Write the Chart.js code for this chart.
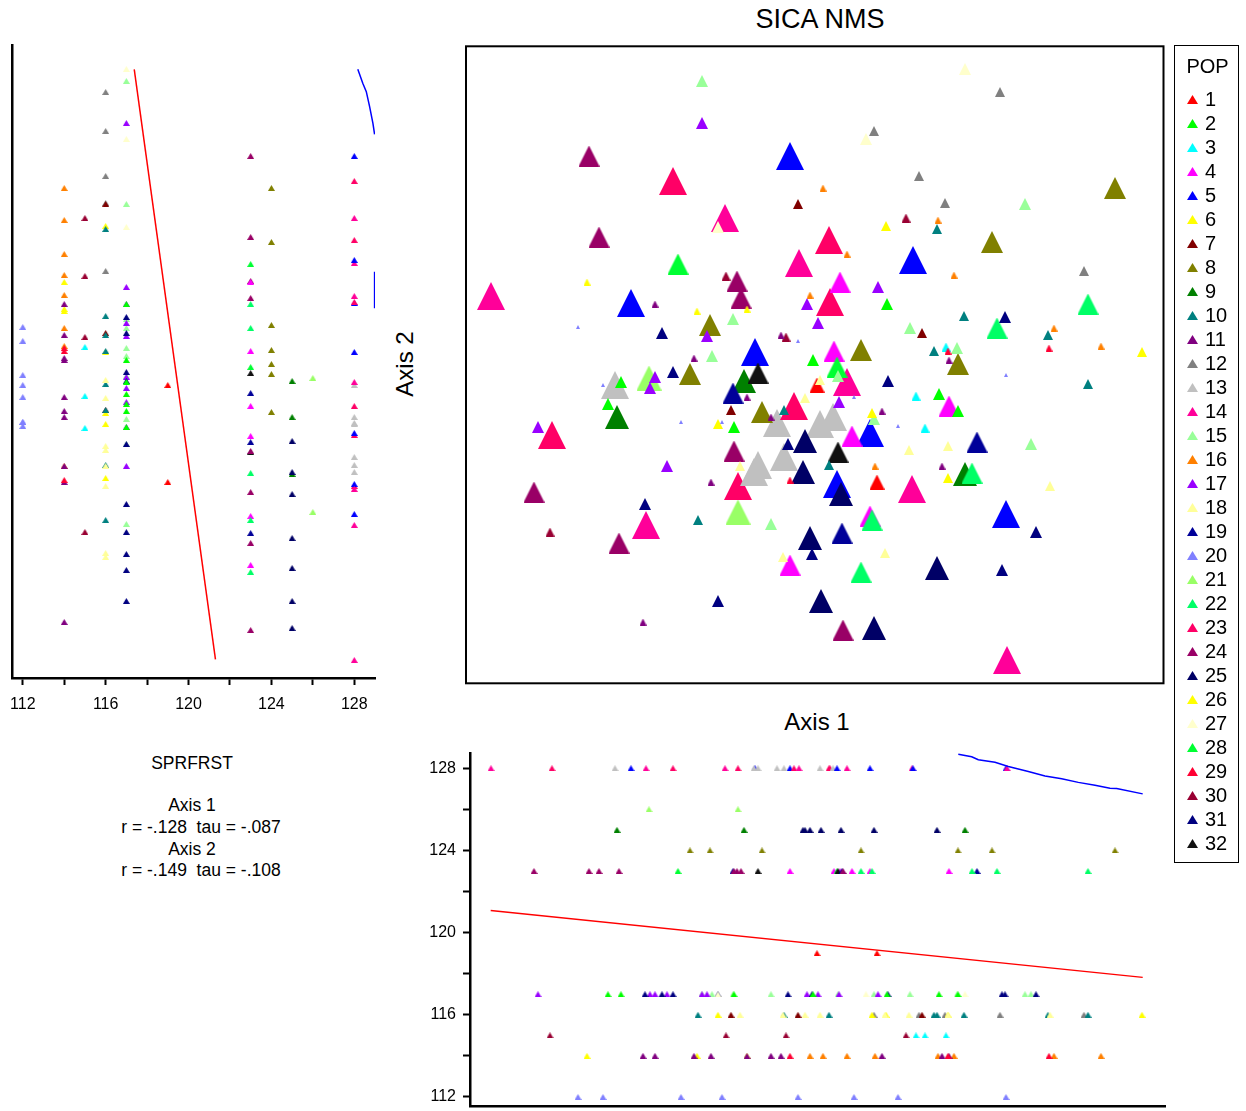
<!DOCTYPE html>
<html><head><meta charset="utf-8"><title>SICA NMS</title>
<script src="https://cdn.jsdelivr.net/npm/chart.js@4.4.1/dist/chart.umd.min.js"></script>
<style>
html,body{margin:0;padding:0;background:#fff;}
#page{position:relative;width:1246px;height:1111px;overflow:hidden;font-family:"Liberation Sans",Arial,Helvetica,sans-serif;color:#000;}
.t{position:absolute;white-space:pre;line-height:1;}
canvas{position:absolute;display:block;}
#legend{position:absolute;left:1174px;top:45px;width:65px;height:818px;border:1px solid #000;box-sizing:border-box;}
</style></head><body>
<div id="page">
<canvas id="cLeft" width="380" height="730" style="left:0;top:0"></canvas>
<canvas id="cMain" width="720" height="660" style="left:455px;top:35px"></canvas>
<canvas id="cBot" width="800" height="371" style="left:380px;top:740px"></canvas>
<div class="t" style="left:620px;top:6px;width:400px;text-align:center;font-size:27px;">SICA NMS</div>
<div class="t" style="left:717px;top:710px;width:200px;text-align:center;font-size:24px;">Axis 1</div>
<div class="t" style="left:355px;top:352px;width:100px;text-align:center;font-size:24px;transform:rotate(-90deg);">Axis 2</div>
<div class="t" style="left:42px;top:755px;width:300px;text-align:center;font-size:17.5px;">SPRFRST</div>
<div class="t" style="left:42px;top:797px;width:300px;text-align:center;font-size:17.5px;">Axis 1</div>
<div class="t" style="left:51px;top:819px;width:300px;text-align:center;font-size:17.5px;">r = -.128  tau = -.087</div>
<div class="t" style="left:42px;top:841px;width:300px;text-align:center;font-size:17.5px;">Axis 2</div>
<div class="t" style="left:51px;top:862px;width:300px;text-align:center;font-size:17.5px;">r = -.149  tau = -.108</div>
<div id="legend"></div>
</div>
<script>
// ---------------- DATA ----------------
const popNames = ['1','2','3','4','5','6','7','8','9','10','11','12','13','14','15','16',
  '17','18','19','20','21','22','23','24','25','26','27','28','29','30','31','32'];
const popColors = ['#ff0000','#00ff00','#00ffff','#ff00ff','#0000ff','#ffff00','#800000','#808000',
  '#008000','#008080','#800080','#808080','#c0c0c0','#ff0099','#99ff99','#ff8000',
  '#9900ff','#ffff99','#000099','#8080ff','#99ff66','#00ff66','#ff0066','#990066',
  '#000066','#ffff00','#ffffcc','#00ff33','#ff0033','#990033','#000080','#111111'];

// NMS Axis 1 scores
const axis1 = [
  -32.4, -26.3, -18.4, -20.0, -16.9, -14.2, -9.0, -7.7, -6.0, -6.1, -5.7, -3.8, -3.1, -2.5, -2.1, -1.6, 1.4, 1.5, 0.5, 1.8, 2.2, 3.2, 5.5, 9.7, 9.8, 19.1, 19.2,
  -16.6, -7.7,
  -19.8, -7.1, 15.0, -1.0, -1.2, 2.6, -0.5, 12.2, 0.6, 5.9,
  30.0, 17.7, -10.5, 4.6, 14.3, -12.5, -5.3,
  -22.6, -21.6, -13.7, -7.8, -7.4, 2.5, 27.3, 18.2, 1.9, 2.2, -5.7, -8.2, 13.4, 3.7, 16.2, 2.3, -8.1, 15.7, -28.1, 5.5, 5.7, 2.7, -19.6, -2.5, 4.6, 2.8,
  0.2, 6.2,
  -11.3, 21.0, -8.2, 9.5, -10.3, 14.2, 5.9, 2.3, -4.4, 21.6,
  -11.3, 6.3, -0.8, 0.3, -10.8, -27.7, -14.8, 2.4, -16.5, -16.0,
  -15.3, 19.0, -14.2, -17.0, -2.7, 7.3, -0.3, -9.7, 22.1, 18.7,
  7.2, 12.4, 14.3, -20.7, -19.4, -8.1, -0.2,
  15.0, 5.1, -9.7,
  18.5, 5.9, 10.4, 13.0, 26.9,
  -1.7, 10.7, -8.4,
  7.1, 32.7, 5.7, -9.7, 13.3,
  12.2, 14.9, 23.3, 11.9, 27.3, -3.1, 1.4, -11.7,
  0.5, -1.0, 9.4, 13.3, -7.5, 23.5, 7.0, -3.2,
  9.1, -8.9, -2.9, -26.5, 13.1, 10.1, 11.0,
  0.8, 12.3, 3.2, 13.9, -0.5, 23.9, 28.6, 6.0,
  -22.8, -11.8, -6.8,
  -16.0, -3.4, 13.4, -6.8, -4.4, 6.7, 12.7, -10.4, -17.2, -12.1,
  23.4, 13.3, -2.5,
  -23.7, -1.7, -21.2, 19.1, 3.9, -9.3, -13.4, 8.3
];
// NMS Axis 2 scores
const axis2 = [
  6.9, -7.0, 6.2, -2.0, -16.0, 18.4, 14.7, -12.1, 1.3, -10.7, -10.0, -5.8, -9.2, 20.9, -4.1, 10.2, 12.5, 6.3, -5.9, -5.2, -11.9, -1.7, -6.8, -12.4, 10.5, -14.9, -29.5,
  -1.3, -14.7,
  -5.2, -1.6, -10.9, -7.6, -10.7, -12.9, -17.3, -20.3, -23.6, -26.3,
  17.7, 12.3, 4.0, 1.5, 0.1, -0.9, -4.7,
  20.9, 12.8, 10.1, 8.4, 6.7, 8.3, 6.1, 3.7, 1.4, -0.2, -0.8, -2.8, -4.1, -7.1, -7.7, -8.7, -8.6, -10.8, -12.7, -15.1, -15.5, -16.8, -17.8, -20.0, -20.7, -26.5,
  -2.0, -11.7,
  28.4, 16.1, 4.6, 3.7, 0.9, 1.7, -5.4, -1.1, -15.9, -7.9,
  24.2, 7.8, 6.1, 4.2, 2.9, -6.2, -10.1, -3.7, -2.3, -1.2,
  3.2, 4.8, -0.7, -13.9, -7.9, -1.6, -18.9, -23.6, -16.7, -20.5,
  6.1, -2.9, -4.6, -3.9, -1.7, -6.2, 0.5,
  29.6, 22.6, 13.8,
  27.3, 23.4, 18.9, 16.2, 9.4,
  16.1, 3.2, -4.5,
  13.9, 1.3, -4.8, -5.9, -11.3,
  13.6, 4.9, 3.0, 1.4, -1.9, -4.5, -10.0, -15.5,
  -1.5, -3.3, -8.5, -8.1, -10.1, -12.1, -18.8, -19.2,
  14.7, 8.9, 2.8, -16.7, 1.8, -3.1, -6.3,
  17.7, 14.5, 11.1, 9.0, 7.0, 3.7, 1.9, -10.1,
  8.3, 5.4, 5.6,
  6.1, 3.0, 0.5, -3.2, -5.2, -4.6, -10.1, -11.7, -25.7, 0.7,
  1.7, 1.4, -11.5,
  3.8, 2.4, -2.0, -1.0, -3.2, -5.7, -5.7, -6.1
];
// SPRFRST value of each plot
const sprfrst = [
  128,128,128,128,128,128,128,128,128,128,128,128,128,128,128,128,128,128,128,128,128,128,128,128,128,128,128,
  126,126,
  125,125,125,125,125,125,125,125,125,125,
  124,124,124,124,124,124,124,
  123,123,123,123,123,123,123,123,123,123,123,123,123,123,123,123,123,123,123,123,123,123,123,123,123,123,
  119,119,
  117,117,117,117,117,117,117,117,117,117,
  117,117,117,117,117,117,117,117,117,117,
  117,117,117,117,117,117,117,117,117,117,
  117,117,117,117,117,117,117,
  117,117,117,
  116,116,116,116,116,
  116,116,116,
  116,116,116,116,116,
  116,116,116,116,116,116,116,116,
  116,116,116,116,116,116,116,116,
  115,115,115,115,115,115,115,
  114,114,114,114,114,114,114,114,
  114,114,114,
  114,114,114,114,114,114,114,114,114,114,
  114,114,114,
  112,112,112,112,112,112,112,112
];
// POP group of each plot
const pop = [
  14,23,5,13,14,23,14,23,5,13,13,13,13,5,23,14,23,23,13,13,5,14,5,14,5,5,14,
  21,21,
  9,9,9,25,25,25,25,25,25,25,
  8,8,8,8,8,8,8,
  24,24,28,24,24,4,22,22,4,28,32,19,4,4,19,32,24,22,24,4,22,19,24,4,22,24,
  1,1,
  15,15,15,15,15,15,15,15,15,15,
  17,17,17,17,17,17,17,17,17,17,
  31,31,31,31,31,31,31,31,31,31,
  2,2,2,2,2,2,2,
  27,27,27,
  12,12,12,12,12,
  7,7,7,
  6,6,6,6,6,
  10,10,10,10,10,10,10,10,
  18,18,18,18,18,18,18,18,
  30,30,30,30,3,3,3,
  16,16,16,16,16,16,16,16,
  26,26,26,
  11,11,11,11,11,11,11,11,11,11,
  29,29,29,
  20,20,20,20,20,20,20,20
];

// Fitted lines
const sprTicks = [112,114,116,118,120,122,124,126,128];
const sprLabels = [112,116,120,124,128];
const leftFitS = [117.38, 121.30];
const leftFitA2 = [29.57, -29.43];
const leftSmoothS = [128.17, 128.41, 128.58, 128.74, 128.90, 128.98];
const leftSmoothA2 = [29.57, 28.17, 27.33, 25.83, 24.17, 23.07];
const leftSmooth2S = [128.98, 128.98];
const leftSmooth2A2 = [9.33, 5.67];
const botFitA1 = [-32.43, 32.77];
const botFitS = [121.07, 117.82];
const botSmoothA1 = [14.33, 15.67, 16.33, 18.0, 19.33, 21.33, 23.0, 24.67, 26.33, 28.0, 29.5, 30.17, 32.77];
const botSmoothS = [128.68, 128.56, 128.41, 128.29, 128.08, 127.84, 127.62, 127.49, 127.31, 127.17, 127.02, 127.01, 126.75];

// ---------------- RENDER ----------------
Chart.defaults.font.family = '"Liberation Sans", Arial, sans-serif';
Chart.defaults.color = '#000';

function makeTri(color, w, h) {
  const c = document.createElement('canvas');
  c.width = w; c.height = h;
  const g = c.getContext('2d');
  g.fillStyle = color;
  g.beginPath(); g.moveTo(0, h); g.lineTo(w / 2, 0); g.lineTo(w, h); g.closePath(); g.fill();
  return c;
}
const triCache = new Map();
function tri(color, w, h) {
  const k = color + '|' + w + '|' + h;
  if (!triCache.has(k)) triCache.set(k, makeTri(color, w, h));
  return triCache.get(k);
}
const markSize = s => Math.round(4 + 1.5 * (s - 112));
const pts = (xs, ys) => xs.map((v, i) => ({x: v, y: ys[i]}));
const lineDs = (data, color) => ({data, showLine: true, borderColor: color, borderWidth: 1.5,
  pointRadius: 0, tension: 0, fill: false});

const baseOpts = {responsive: false, animation: false, devicePixelRatio: 1, events: [],
  plugins: {legend: {display: false}, tooltip: {enabled: false}}};

const smallStyle = c => c.raw ? tri(popColors[c.raw.p - 1], 7, 6) : 'triangle';

// main NMS ordination
const frame = {id: 'frame', beforeDatasetsDraw(chart) {
  const {ctx, chartArea: a} = chart;
  ctx.save(); ctx.strokeStyle = '#000'; ctx.lineWidth = 2;
  ctx.strokeRect(a.left + 1, a.top + 1.3, a.right - a.left - 2.5, a.bottom - a.top - 3);
  ctx.restore();
}};
const mainPts = axis1.map((v, i) => ({x: v, y: axis2[i], p: pop[i], s: sprfrst[i]}));
new Chart(document.getElementById('cMain'), {
  type: 'scatter',
  data: {datasets: [{data: mainPts, clip: false, pointRadius: 3,
    pointStyle: c => { if (!c.raw) return 'triangle'; const w = markSize(c.raw.s); return tri(popColors[c.raw.p - 1], w, w); }}]},
  options: Object.assign({}, baseOpts, {
    layout: {padding: 10},
    scales: {x: {type: 'linear', min: -35, max: 35, display: false},
             y: {type: 'linear', min: -32, max: 32, display: false}}
  }),
  plugins: [frame]
});

// left panel: SPRFRST vs Axis 2
const leftPts = sprfrst.map((s, i) => ({x: s, y: axis2[i], p: pop[i]}));
new Chart(document.getElementById('cLeft'), {
  type: 'scatter',
  data: {datasets: [
    lineDs(pts(leftFitS, leftFitA2), '#ff0000'),
    lineDs(pts(leftSmoothS, leftSmoothA2), '#0000ff'),
    lineDs(pts(leftSmooth2S, leftSmooth2A2), '#0000ff'),
    {data: leftPts, clip: false, pointRadius: 3, pointStyle: smallStyle}
  ]},
  options: Object.assign({}, baseOpts, {
    layout: {padding: {left: 12, top: 45, right: 5, bottom: 0}},
    scales: {
      x: {type: 'linear', min: 111.48, max: 129.0,
        afterBuildTicks: sc => { sc.ticks = sprTicks.map(v => ({value: v})); },
        ticks: {autoSkip: false, maxRotation: 0, minRotation: 0, padding: 10, font: {size: 16}, color: '#000',
          callback: v => sprLabels.includes(v) ? String(v) : ''},
        grid: {display: true, drawOnChartArea: false, drawTicks: true, tickLength: 7, tickWidth: 2, tickColor: '#000', color: '#000'},
        border: {display: true, color: '#000', width: 2.5},
        afterFit: sc => { sc.height = 52; sc.paddingLeft = 0; sc.paddingRight = 0; }},
      y: {type: 'linear', min: -31.3, max: 32, ticks: {display: false}, grid: {display: false},
        border: {display: true, color: '#000', width: 2.5},
        afterFit: sc => { sc.width = 0; sc.paddingTop = 0; sc.paddingBottom = 0; }}
    }
  })
});

// bottom panel: Axis 1 vs SPRFRST
const botPts = axis1.map((v, i) => ({x: v, y: sprfrst[i], p: pop[i]}));
new Chart(document.getElementById('cBot'), {
  type: 'scatter',
  data: {datasets: [
    lineDs(pts(botFitA1, botFitS), '#ff0000'),
    lineDs(pts(botSmoothA1, botSmoothS), '#0000ff'),
    {data: botPts, clip: false, pointRadius: 3, pointStyle: smallStyle}
  ]},
  options: Object.assign({}, baseOpts, {
    layout: {padding: {left: 0, top: 13, right: 15, bottom: 2.5}},
    scales: {
      x: {type: 'linear', min: -34.5, max: 35, ticks: {display: false}, grid: {display: false},
        border: {display: true, color: '#000', width: 2.5},
        afterFit: sc => { sc.height = 0; sc.paddingLeft = 0; sc.paddingRight = 0; }},
      y: {type: 'linear', min: 111.56, max: 128.74,
        afterBuildTicks: sc => { sc.ticks = sprTicks.map(v => ({value: v})); },
        ticks: {autoSkip: false, padding: 7, font: {size: 16}, color: '#000',
          callback: v => sprLabels.includes(v) ? String(v) : ''},
        grid: {display: true, drawOnChartArea: false, drawTicks: true, tickLength: 7, tickWidth: 2, tickColor: '#000', color: '#000'},
        border: {display: true, color: '#000', width: 2.5},
        afterFit: sc => { sc.width = 90; sc.paddingTop = 0; sc.paddingBottom = 0; }}
    }
  })
});

// legend
const legend = document.getElementById('legend');
const head = document.createElement('div');
head.className = 't';
head.style.cssText = 'left:0;top:10px;width:65px;text-align:center;font-size:20px;';
head.textContent = 'POP';
legend.appendChild(head);
popNames.forEach((name, i) => {
  const yc = 99 + 24 * i - 46;
  const c = makeTri(popColors[i], 11, 9);
  c.style.left = '12px'; c.style.top = (yc - 4) + 'px';
  legend.appendChild(c);
  const d = document.createElement('div');
  d.className = 't';
  d.style.cssText = 'left:30px;top:' + (yc - 10) + 'px;font-size:20px;';
  d.textContent = name;
  legend.appendChild(d);
});
</script>
</body></html>
